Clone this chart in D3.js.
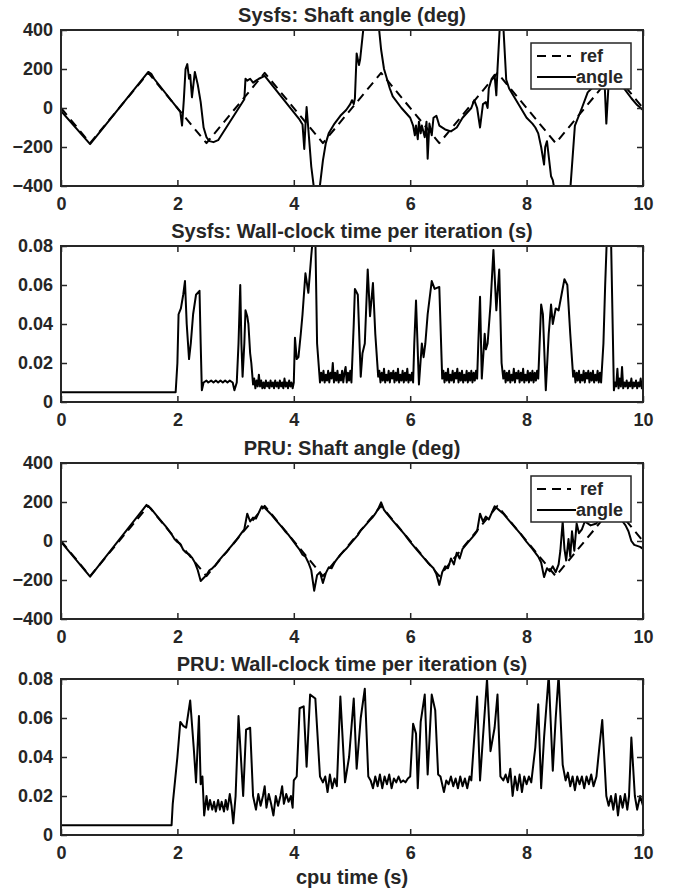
<!DOCTYPE html>
<html lang="en">
<head>
<meta charset="UTF-8">
<title>Sysfs vs PRU</title>
<style>
  body { margin: 0; background: #fff; }
  text { font-family: "Liberation Sans", Arial, sans-serif; font-weight: bold; fill: #262626; }
  .tick text { font-size: 18px; }
  .title { font-size: 20px; }
  .legend-label { font-size: 18px; }
  .domain { display: none; }
  .tick line { stroke: #262626; stroke-width: 1.5px; }
  .frame { fill: none; stroke: #262626; stroke-width: 2px; }
  .trace { fill: none; stroke: #000; stroke-width: 2px; stroke-linejoin: round; }
  .ref { stroke-dasharray: 9,6; }
</style>
</head>
<body>
<div id="container"></div>
<script src="https://d3js.org/d3.v7.min.js"></script>
<script>
// tick labels
var xTicks = [0, 2, 4, 6, 8, 10];
var angleTicks = [-400, -200, 0, 200, 400];
var timeTicks = [0, 0.02, 0.04, 0.06, 0.08];

// reference triangle wave (corner points)
var refAngle = [[0,0],[0.5,-180],[1.5,180],[2.5,-180],[3.5,180],[4.5,-180],[5.5,180],[6.5,-180],[7.5,180],[8.5,-180],[9.5,180],[10,0]];

// sysfs: measured shaft angle (deg)
var sysfsAngle = [[0,-15],[0.5,-185],[1.5,185],[1.55,175],[1.6,150],[2.05,-20],[2.08,-90],[2.11,40],[2.14,200],[2.17,225],[2.2,150],[2.22,170],[2.25,55],[2.3,185],[2.35,120],[2.4,30],[2.45,-100],[2.5,-150],[2.55,-170],[2.62,-175],[2.7,-165],[3.15,45],[3.17,150],[3.2,140],[3.25,150],[3.3,130],[3.35,140],[3.4,150],[3.5,165],[4.1,-60],[4.15,-85],[4.18,-210],[4.2,-90],[4.22,5],[4.3,-300],[4.35,-420],[4.44,-420],[4.5,-270],[4.55,-180],[4.6,-130],[4.7,-80],[4.8,-40],[4.9,-10],[4.97,20],[5.0,40],[5.03,20],[5.05,50],[5.08,280],[5.12,220],[5.14,250],[5.2,420],[5.46,420],[5.5,300],[5.55,200],[5.65,100],[5.7,60],[5.85,0],[6.0,-50],[6.05,-90],[6.08,-140],[6.1,-90],[6.13,-160],[6.15,-70],[6.18,-130],[6.2,-90],[6.25,-150],[6.28,-70],[6.3,-260],[6.33,-80],[6.37,-140],[6.4,-50],[6.45,-40],[6.5,-90],[6.6,-110],[6.7,-120],[6.8,-100],[6.9,-50],[7.05,0],[7.1,40],[7.15,0],[7.2,-100],[7.25,20],[7.3,30],[7.33,0],[7.35,100],[7.4,150],[7.45,170],[7.48,65],[7.5,200],[7.54,420],[7.6,420],[7.65,145],[7.7,100],[7.8,50],[7.9,0],[8.0,-50],[8.1,-80],[8.15,-100],[8.2,-130],[8.25,-200],[8.3,-290],[8.32,-200],[8.35,-170],[8.42,-350],[8.45,-370],[8.48,-420],[8.75,-420],[8.83,-90],[8.95,0],[9.05,80],[9.15,110],[9.3,150],[9.34,130],[9.37,-80],[9.41,130],[9.5,170],[9.6,130],[9.7,90],[9.8,50],[9.9,15],[10,-10]];

// sysfs: wall-clock time per iteration (s)
var sysfsTime = [[0,0.005],[1.97,0.005],[2.0,0.02],[2.02,0.045],[2.06,0.048],[2.1,0.055],[2.13,0.062],[2.16,0.04],[2.2,0.022],[2.23,0.03],[2.27,0.045],[2.32,0.055],[2.38,0.057],[2.4,0.03],[2.42,0.006],[2.45,0.01],[2.5,0.011],[2.53,0.01],[2.58,0.011],[2.62,0.01],[2.66,0.011],[2.7,0.01],[2.74,0.011],[2.78,0.01],[2.82,0.011],[2.86,0.01],[2.9,0.011],[2.95,0.01],[2.98,0.006],[3.02,0.01],[3.05,0.03],[3.08,0.06],[3.1,0.03],[3.12,0.013],[3.15,0.03],[3.17,0.047],[3.2,0.044],[3.22,0.04],[3.25,0.025],[3.27,0.02],
  [3.3,0.009],[3.32,0.012],[3.34,0.007],[3.36,0.011],[3.38,0.008],[3.4,0.014],[3.42,0.008],[3.44,0.011],[3.46,0.007],[3.48,0.01],[3.5,0.007],[3.52,0.011],[3.54,0.008],[3.56,0.01],[3.58,0.007],[3.6,0.011],[3.62,0.008],[3.64,0.01],[3.66,0.007],[3.68,0.011],[3.7,0.008],[3.72,0.01],[3.74,0.007],[3.76,0.011],[3.78,0.008],[3.8,0.01],[3.82,0.007],[3.84,0.012],[3.86,0.008],[3.88,0.01],[3.9,0.007],[3.92,0.011],[3.94,0.008],[3.96,0.01],[3.98,0.007],[4.0,0.01],
  [4.02,0.033],[4.05,0.022],[4.08,0.023],[4.12,0.035],[4.15,0.045],[4.2,0.066],[4.25,0.056],[4.3,0.075],[4.33,0.085],[4.37,0.085],[4.4,0.03],
  [4.45,0.01],[4.47,0.015],[4.49,0.011],[4.51,0.016],[4.53,0.01],[4.55,0.014],[4.57,0.011],[4.59,0.016],[4.61,0.01],[4.63,0.015],[4.65,0.012],[4.67,0.02],[4.69,0.01],[4.71,0.015],[4.73,0.011],[4.75,0.016],[4.77,0.01],[4.79,0.014],[4.81,0.011],[4.83,0.016],[4.85,0.01],[4.87,0.015],[4.89,0.018],[4.91,0.01],[4.93,0.015],[4.95,0.011],[4.97,0.016],[4.99,0.01],
  [5.03,0.04],[5.05,0.058],[5.1,0.055],[5.15,0.013],[5.18,0.025],[5.22,0.03],[5.27,0.068],[5.31,0.044],[5.36,0.061],[5.4,0.035],
  [5.45,0.013],[5.47,0.016],[5.49,0.01],[5.51,0.015],[5.53,0.011],[5.55,0.017],[5.57,0.01],[5.59,0.014],[5.61,0.011],[5.63,0.016],[5.65,0.01],[5.67,0.015],[5.69,0.012],[5.71,0.016],[5.73,0.01],[5.75,0.015],[5.77,0.011],[5.79,0.017],[5.81,0.01],[5.83,0.014],[5.85,0.011],[5.87,0.016],[5.89,0.01],[5.91,0.015],[5.93,0.011],[5.95,0.017],[5.97,0.01],[5.99,0.014],[6.01,0.011],[6.03,0.015],[6.05,0.01],
  [6.07,0.03],[6.1,0.052],[6.15,0.009],[6.2,0.03],[6.23,0.023],[6.26,0.03],[6.3,0.045],[6.37,0.062],[6.42,0.058],[6.5,0.059],
  [6.55,0.012],[6.57,0.016],[6.59,0.01],[6.61,0.015],[6.63,0.011],[6.65,0.017],[6.67,0.01],[6.69,0.014],[6.71,0.011],[6.73,0.016],[6.75,0.01],[6.77,0.015],[6.79,0.012],[6.81,0.017],[6.83,0.01],[6.85,0.015],[6.87,0.011],[6.89,0.016],[6.91,0.01],[6.93,0.014],[6.95,0.011],[6.97,0.016],[6.99,0.01],[7.01,0.015],[7.03,0.011],[7.05,0.016],[7.07,0.01],[7.09,0.015],[7.11,0.011],[7.13,0.016],[7.15,0.012],
  [7.17,0.03],[7.2,0.054],[7.23,0.012],[7.28,0.035],[7.3,0.027],[7.33,0.03],[7.38,0.05],[7.43,0.078],[7.48,0.047],[7.53,0.068],[7.57,0.02],
  [7.6,0.012],[7.62,0.016],[7.64,0.01],[7.66,0.015],[7.68,0.011],[7.7,0.016],[7.72,0.01],[7.74,0.014],[7.76,0.011],[7.78,0.017],[7.8,0.01],[7.82,0.015],[7.84,0.012],[7.86,0.016],[7.88,0.01],[7.9,0.015],[7.92,0.011],[7.94,0.017],[7.96,0.01],[7.98,0.014],[8.0,0.011],[8.02,0.016],[8.04,0.01],[8.06,0.015],[8.08,0.011],[8.1,0.016],[8.12,0.01],[8.14,0.015],[8.16,0.011],[8.18,0.016],[8.2,0.012],
  [8.25,0.05],[8.28,0.045],[8.33,0.006],[8.38,0.035],[8.42,0.05],[8.45,0.04],[8.5,0.048],[8.55,0.047],[8.6,0.055],[8.65,0.063],[8.7,0.06],[8.75,0.035],
  [8.8,0.013],[8.82,0.016],[8.84,0.01],[8.86,0.015],[8.88,0.011],[8.9,0.016],[8.92,0.01],[8.94,0.014],[8.96,0.011],[8.98,0.016],[9.0,0.01],[9.02,0.015],[9.04,0.012],[9.06,0.016],[9.08,0.01],[9.1,0.015],[9.12,0.011],[9.14,0.016],[9.16,0.01],[9.18,0.014],[9.2,0.011],[9.22,0.016],[9.24,0.01],[9.26,0.015],[9.28,0.01],
  [9.32,0.03],[9.35,0.06],[9.38,0.085],[9.45,0.085],
  [9.5,0.006],[9.52,0.01],[9.54,0.008],[9.56,0.017],[9.58,0.007],[9.6,0.012],[9.62,0.008],[9.64,0.018],[9.66,0.007],[9.68,0.01],[9.7,0.008],[9.72,0.011],[9.74,0.007],[9.76,0.01],[9.78,0.008],[9.8,0.012],[9.82,0.007],[9.84,0.01],[9.86,0.008],[9.88,0.011],[9.9,0.007],[9.92,0.01],[9.94,0.008],[9.96,0.012],[9.98,0.007],[10,0.009]];

// PRU: measured shaft angle (deg)
var pruAngle = [[0,0],[0.03,-15],[0.5,-183],[1.47,185],[1.55,165],[1.7,110],[1.8,75],[1.9,35],[1.95,10],[2.0,-5],[2.05,-15],[2.1,-45],[2.15,-60],[2.2,-68],[2.25,-85],[2.3,-110],[2.35,-150],[2.4,-205],[2.45,-190],[2.5,-175],[2.55,-150],[2.6,-140],[2.65,-125],[2.7,-105],[2.8,-70],[2.85,-55],[2.9,-35],[3.0,0],[3.05,20],[3.1,40],[3.15,60],[3.2,140],[3.25,100],[3.3,120],[3.35,115],[3.45,178],[3.5,170],[3.6,140],[3.7,105],[3.8,70],[3.85,50],[3.9,35],[4.0,-5],[4.05,-25],[4.1,-45],[4.15,-70],[4.2,-80],[4.25,-110],[4.3,-150],[4.35,-255],[4.4,-175],[4.45,-160],[4.5,-215],[4.55,-165],[4.6,-135],[4.65,-140],[4.7,-110],[4.8,-70],[4.9,-40],[5.0,-5],[5.1,30],[5.15,55],[5.2,70],[5.3,105],[5.35,120],[5.4,140],[5.45,165],[5.5,198],[5.55,160],[5.6,140],[5.7,105],[5.8,70],[5.9,35],[6.0,-5],[6.1,-40],[6.2,-75],[6.3,-110],[6.4,-140],[6.45,-170],[6.5,-225],[6.55,-160],[6.6,-130],[6.65,-140],[6.7,-90],[6.75,-120],[6.8,-60],[6.85,-90],[6.9,-40],[7.0,-5],[7.1,30],[7.15,50],[7.2,140],[7.25,100],[7.3,125],[7.35,110],[7.45,178],[7.5,165],[7.6,140],[7.7,105],[7.8,70],[7.9,35],[8.0,-5],[8.1,-40],[8.2,-80],[8.25,-110],[8.3,-185],[8.35,-140],[8.4,-155],[8.45,-130],[8.5,-160],[8.55,-120],[8.58,-50],[8.62,100],[8.65,-40],[8.68,-100],[8.72,10],[8.75,-80],[8.78,50],[8.82,-50],[8.86,90],[8.9,40],[8.95,60],[9.0,100],[9.1,80],[9.2,90],[9.3,150],[9.45,170],[9.55,150],[9.65,100],[9.7,80],[9.75,50],[9.8,0],[9.85,-20],[9.9,-25],[9.95,-30],[10,-40]];

// PRU: wall-clock time per iteration (s)
var pruTime = [[0,0.005],[1.9,0.005],[1.92,0.016],[2.0,0.04],[2.05,0.058],[2.1,0.056],[2.15,0.055],[2.22,0.069],[2.28,0.045],[2.32,0.027],[2.37,0.061],[2.4,0.026],[2.43,0.03],[2.46,0.01],[2.5,0.02],[2.53,0.013],[2.56,0.018],[2.6,0.013],[2.63,0.017],[2.66,0.012],[2.7,0.018],[2.73,0.013],[2.76,0.017],[2.8,0.012],[2.83,0.018],[2.86,0.013],[2.9,0.021],[2.93,0.015],[2.96,0.006],[3.0,0.02],[3.05,0.061],[3.13,0.02],[3.18,0.054],[3.25,0.055],[3.3,0.02],[3.35,0.013],[3.39,0.021],[3.43,0.015],[3.47,0.02],[3.5,0.025],[3.53,0.014],[3.57,0.021],[3.61,0.016],[3.65,0.01],[3.69,0.02],[3.73,0.015],[3.77,0.02],[3.8,0.025],[3.83,0.016],[3.87,0.021],[3.91,0.017],[3.95,0.02],[3.98,0.014],[4.0,0.028],[4.05,0.03],[4.1,0.065],[4.17,0.066],[4.22,0.035],[4.28,0.072],[4.37,0.07],[4.45,0.03],[4.5,0.027],[4.54,0.03],[4.58,0.022],[4.62,0.031],[4.66,0.024],[4.7,0.029],[4.74,0.025],[4.8,0.071],[4.88,0.027],[4.95,0.04],[5.03,0.07],[5.08,0.034],[5.15,0.06],[5.22,0.075],[5.28,0.03],[5.32,0.028],[5.36,0.024],[5.4,0.03],[5.44,0.025],[5.48,0.031],[5.52,0.024],[5.56,0.03],[5.6,0.026],[5.64,0.031],[5.68,0.024],[5.72,0.029],[5.76,0.027],[5.8,0.03],[5.84,0.027],[5.88,0.028],[5.92,0.027],[5.96,0.029],[6.0,0.03],[6.05,0.057],[6.1,0.052],[6.13,0.024],[6.18,0.058],[6.25,0.072],[6.3,0.031],[6.37,0.072],[6.43,0.064],[6.48,0.031],[6.52,0.03],[6.58,0.022],[6.62,0.028],[6.66,0.026],[6.7,0.03],[6.74,0.025],[6.78,0.029],[6.82,0.024],[6.86,0.03],[6.9,0.025],[6.94,0.029],[6.98,0.024],[7.02,0.03],[7.05,0.028],[7.15,0.071],[7.2,0.028],[7.25,0.05],[7.32,0.08],[7.38,0.043],[7.45,0.055],[7.5,0.072],[7.55,0.03],[7.6,0.028],[7.64,0.031],[7.68,0.027],[7.72,0.034],[7.76,0.02],[7.8,0.03],[7.84,0.023],[7.88,0.031],[7.92,0.022],[7.96,0.03],[8.0,0.026],[8.04,0.03],[8.08,0.027],[8.15,0.045],[8.2,0.067],[8.25,0.024],[8.3,0.05],[8.38,0.082],[8.45,0.033],[8.5,0.06],[8.55,0.082],[8.62,0.036],[8.67,0.028],[8.71,0.032],[8.75,0.025],[8.79,0.03],[8.83,0.023],[8.87,0.03],[8.91,0.026],[8.95,0.03],[8.99,0.024],[9.03,0.03],[9.07,0.026],[9.11,0.031],[9.15,0.025],[9.2,0.03],[9.25,0.045],[9.3,0.059],[9.37,0.02],[9.41,0.015],[9.45,0.02],[9.49,0.013],[9.53,0.021],[9.57,0.01],[9.61,0.02],[9.65,0.014],[9.69,0.021],[9.73,0.013],[9.76,0.02],[9.8,0.05],[9.86,0.02],[9.9,0.013],[9.95,0.02],[10,0.015]];

var W = 677, H = 892;
var left = 61, right = 643, plotH = 156;

var svg = d3.select("#container").append("svg")
  .attr("width", W).attr("height", H);

var x = d3.scaleLinear().domain([0, 10]).range([left, right]);
var lineGen = d3.line().x(function (d) { return x(d[0]); });
var timeFmt = function (d) { return d === 0 ? "0" : d3.format(".2f")(d); };

var panels = [
  { top: 30, title: "Sysfs: Shaft angle (deg)", domain: [-400, 400], ticks: angleTicks, fmt: d3.format("d"), ref: refAngle, data: sysfsAngle },
  { top: 246, title: "Sysfs: Wall-clock time per iteration (s)", domain: [0, 0.08], ticks: timeTicks, fmt: timeFmt, data: sysfsTime },
  { top: 463, title: "PRU: Shaft angle (deg)", domain: [-400, 400], ticks: angleTicks, fmt: d3.format("d"), ref: refAngle, data: pruAngle },
  { top: 679, title: "PRU: Wall-clock time per iteration (s)", domain: [0, 0.08], ticks: timeTicks, fmt: timeFmt, data: pruTime }
];

panels.forEach(function (p, i) {
  var bottom = p.top + plotH;
  var y = d3.scaleLinear().domain(p.domain).range([bottom, p.top]);
  var g = svg.append("g");

  // clip so out-of-range spikes stop at the frame
  var clipId = "clip" + i;
  svg.append("clipPath").attr("id", clipId).append("rect")
    .attr("x", left).attr("y", p.top).attr("width", right - left).attr("height", plotH);

  var plot = g.append("g").attr("clip-path", "url(#" + clipId + ")");
  var ln = lineGen.y(function (d) { return y(d[1]); });
  if (p.ref) {
    plot.append("path").attr("class", "trace ref").attr("d", ln(p.ref));
  }
  plot.append("path").attr("class", "trace").attr("d", ln(p.data));

  // axes, matlab style: inward ticks on all four sides
  g.append("g").attr("transform", "translate(0," + bottom + ")")
    .call(d3.axisBottom(x).tickValues(xTicks).tickSizeInner(-6).tickSizeOuter(0).tickPadding(11).tickFormat(d3.format("d")));
  g.append("g").attr("transform", "translate(0," + p.top + ")")
    .call(d3.axisTop(x).tickValues(xTicks).tickSizeInner(-6).tickSizeOuter(0).tickFormat(""));
  g.append("g").attr("transform", "translate(" + left + ",0)")
    .call(d3.axisLeft(y).tickValues(p.ticks).tickSizeInner(-6).tickSizeOuter(0).tickPadding(8).tickFormat(p.fmt));
  g.append("g").attr("transform", "translate(" + right + ",0)")
    .call(d3.axisRight(y).tickValues(p.ticks).tickSizeInner(-6).tickSizeOuter(0).tickFormat(""));

  g.append("rect").attr("class", "frame")
    .attr("x", left).attr("y", p.top).attr("width", right - left).attr("height", plotH);

  g.append("text").attr("class", "title")
    .attr("x", (left + right) / 2).attr("y", p.top - 8)
    .attr("text-anchor", "middle").text(p.title);

  // legend for the angle panels
  if (p.ref) {
    var lx = right - 12 - 100, ly = p.top + 13;
    var lg = g.append("g");
    lg.append("rect").attr("x", lx).attr("y", ly).attr("width", 100).attr("height", 46)
      .attr("fill", "#fff").attr("stroke", "#262626").attr("stroke-width", 1.5);
    lg.append("line").attr("class", "trace ref")
      .attr("x1", lx + 6).attr("x2", lx + 40).attr("y1", ly + 13).attr("y2", ly + 13);
    lg.append("line").attr("class", "trace")
      .attr("x1", lx + 6).attr("x2", lx + 45).attr("y1", ly + 34).attr("y2", ly + 34);
    lg.append("text").attr("class", "legend-label").attr("x", lx + 49).attr("y", ly + 19).text("ref");
    lg.append("text").attr("class", "legend-label").attr("x", lx + 45).attr("y", ly + 40).text("angle");
  }
});

svg.append("text").attr("class", "title")
  .attr("x", (left + right) / 2).attr("y", 884)
  .attr("text-anchor", "middle").text("cpu time (s)");
</script>
</body>
</html>
